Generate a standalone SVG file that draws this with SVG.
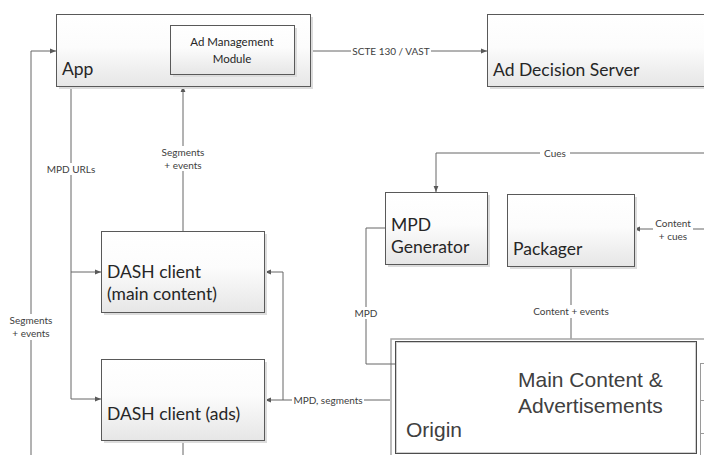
<svg xmlns="http://www.w3.org/2000/svg" width="704" height="455" viewBox="0 0 704 455">
  <defs>
    <linearGradient id="boxFill" x1="0" y1="0" x2="0" y2="1">
      <stop offset="0" stop-color="#ffffff"/>
      <stop offset="0.45" stop-color="#fcfcfc"/>
      <stop offset="1" stop-color="#e6e6e6"/>
    </linearGradient>
    <marker id="arrow" viewBox="0 0 10 10" refX="10" refY="5" markerWidth="6" markerHeight="6" markerUnits="userSpaceOnUse" orient="auto-start-reverse">
      <path d="M0,1 L10,5 L0,9 z" fill="#595959"/>
    </marker>
    <style>
      .box { fill: url(#boxFill); stroke: #595959; stroke-width: 1; }
      .shadow { fill: #dcdcdc; }
      .big { font-family: Lato, "Open Sans", "Noto Sans", sans-serif; font-size: 17.5px; fill: #262626; }
      .mid { font-family: Lato, "Open Sans", "Noto Sans", sans-serif; font-size: 11.5px; fill: #262626; text-anchor: middle; }
      .small { font-family: Lato, "Open Sans", "Noto Sans", sans-serif; font-size: 10px; fill: #404040; text-anchor: middle; }
      .arial { font-family: "Liberation Sans", Arial, sans-serif; font-size: 21px; fill: #404040; }
      .wire { fill: none; stroke: #666666; stroke-width: 1; }
      .lbg { fill: #ffffff; }
      .stack { fill: #ffffff; stroke: #9a9a9a; stroke-width: 1; }
    </style>
  </defs>

  <rect width="704" height="455" fill="#ffffff"/>

  <!-- connectors -->
  <g id="connectors">
    <path class="wire" d="M294,51 H487" marker-start="url(#arrow)" marker-end="url(#arrow)"/>
    <path class="wire" d="M31,455 V51 H56" marker-end="url(#arrow)"/>
    <path class="wire" d="M71,86 V399 H101" marker-end="url(#arrow)"/>
    <path class="wire" d="M71,272 H101" marker-end="url(#arrow)"/>
    <path class="wire" d="M183,231 V86" marker-end="url(#arrow)"/>
    <path class="wire" d="M183,440 V455"/>
    <path class="wire" d="M390,400 H265" marker-end="url(#arrow)"/>
    <path class="wire" d="M283,400 V272 H265" marker-end="url(#arrow)"/>
    <path class="wire" d="M704,153 H436 V192" marker-end="url(#arrow)"/>
    <path class="wire" d="M704,229 H634" marker-end="url(#arrow)"/>
    <path class="wire" d="M571,266 V339"/>

    <!-- connector labels -->
    <rect class="lbg" x="351" y="45" width="80" height="12"/>
    <text class="small" x="391" y="54.5">SCTE 130 / VAST</text>

    <rect class="lbg" x="161" y="146" width="44" height="25"/>
    <text class="small" x="183" y="156">Segments</text>
    <text class="small" x="183" y="168.5">+ events</text>

    <rect class="lbg" x="47" y="163" width="48" height="12"/>
    <text class="small" x="71" y="172.5">MPD URLs</text>

    <rect class="lbg" x="540" y="147" width="30" height="12"/>
    <text class="small" x="555" y="156.5">Cues</text>

    <rect class="lbg" x="653" y="217" width="40" height="26"/>
    <text class="small" x="673" y="227">Content</text>
    <text class="small" x="673" y="240">+ cues</text>

    <rect class="lbg" x="532" y="305" width="78" height="13"/>
    <text class="small" x="571" y="315">Content + events</text>

    <rect class="lbg" x="9" y="314" width="44" height="26"/>
    <text class="small" x="31" y="324">Segments</text>
    <text class="small" x="31" y="336.5">+ events</text>

    <rect class="lbg" x="292" y="394" width="72" height="12"/>
    <text class="small" x="328" y="403.5">MPD, segments</text>
  </g>

  <!-- App with the ad management module inside -->
  <g id="app">
    <rect class="shadow" x="59" y="17" width="254" height="72"/>
    <rect class="box" x="56.5" y="14.5" width="254" height="72"/>
    <text class="big" x="62" y="75">App</text>
  </g>
  <g id="ad-management-module">
    <rect class="shadow" x="173" y="28" width="124" height="49"/>
    <rect class="box" x="170.5" y="25.5" width="124" height="49"/>
    <text class="mid" x="232" y="46">Ad Management</text>
    <text class="mid" x="232" y="63">Module</text>
  </g>

  <g id="ad-decision-server">
    <rect class="shadow" x="490" y="17" width="230" height="72"/>
    <rect class="box" x="487.5" y="14.5" width="230" height="72"/>
    <text class="big" x="493" y="76">Ad Decision Server</text>
  </g>

  <g id="mpd-generator">
    <rect class="shadow" x="388" y="195" width="102" height="72"/>
    <rect class="box" x="385.5" y="192.5" width="102" height="72"/>
    <text class="big" x="391" y="231">MPD</text>
    <text class="big" x="391" y="253">Generator</text>
  </g>

  <g id="packager">
    <rect class="shadow" x="510" y="197" width="127" height="72"/>
    <rect class="box" x="507.5" y="194.5" width="127" height="72"/>
    <text class="big" x="513" y="255">Packager</text>
  </g>

  <g id="dash-client-main">
    <rect class="shadow" x="104" y="234" width="163" height="81"/>
    <rect class="box" x="101.5" y="231.5" width="163" height="81"/>
    <text class="big" x="107" y="278">DASH client</text>
    <text class="big" x="107" y="300">(main content)</text>
  </g>

  <g id="dash-client-ads">
    <rect class="shadow" x="104" y="362" width="163" height="81"/>
    <rect class="box" x="101.5" y="359.5" width="163" height="81"/>
    <text class="big" x="107" y="420">DASH client (ads)</text>
  </g>

  <g id="origin">
    <rect x="391" y="339" width="330" height="130" fill="#ffffff" stroke="#a6a6a6" stroke-width="1.5"/>
    <rect class="stack" x="700.5" y="363.5" width="12" height="37"/>
    <rect class="stack" x="700.5" y="400.5" width="12" height="33"/>
    <rect class="stack" x="700.5" y="433.5" width="12" height="36"/>
    <rect x="395.5" y="341.5" width="301" height="112" fill="#ffffff" stroke="#4d4d4d"/>
    <rect x="396.5" y="342.5" width="299" height="110" fill="none" stroke="#d0d0d0"/>
    <text class="arial" x="518" y="387">Main Content &amp;</text>
    <text class="arial" x="518" y="413">Advertisements</text>
    <text class="arial" x="406" y="437">Origin</text>
  </g>

  <!-- MPD feed from the generator into the origin, drawn over the origin's outer frame -->
  <g id="mpd-link">
    <path class="wire" d="M385,228 H366 V364 H395"/>
    <rect class="lbg" x="354" y="307" width="24" height="12"/>
    <text class="small" x="366" y="316.5">MPD</text>
  </g>
</svg>
